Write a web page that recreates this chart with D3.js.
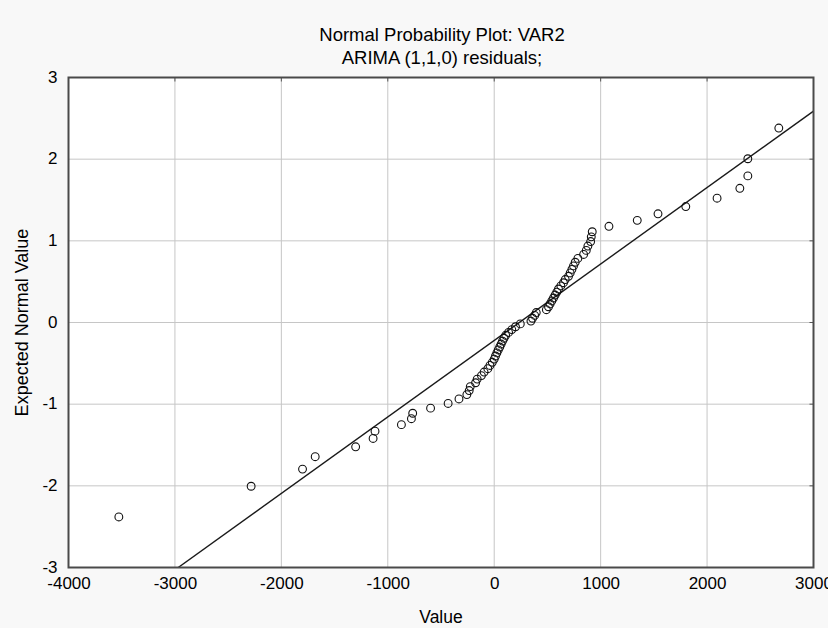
<!DOCTYPE html>
<html><head><meta charset="utf-8">
<script src="https://cdn.jsdelivr.net/npm/d3@7"></script>
<style>body{margin:0;background:#fff}svg{display:block}text{font-family:"Liberation Sans",Arial,sans-serif}</style>
</head><body>
<script>
const titleText = "Normal Probability Plot: VAR2";
const subtitleText = "ARIMA (1,1,0) residuals;";
const xLabel = "Value";
const yLabel = "Expected Normal Value";
const xTicks = [-4000, -3000, -2000, -1000, 0, 1000, 2000, 3000];
const yTicks = [-3, -2, -1, 0, 1, 2, 3];
// residual values (sorted)
const values = [-3527, -2284, -1801, -1682, -1302, -1138, -1120, -872, -778, -766,
  -598, -433, -331, -257, -235, -225, -175, -160, -120, -95,
  -60, -40, -18, 0, 12, 25, 38, 52, 65, 78,
  92, 108, 135, 165, 200, 245, 345, 360, 380, 395,
  490, 510, 525, 541, 557, 572, 588, 604, 626, 651,
  667, 698, 714, 730, 745, 761, 786, 840, 865, 880,
  906, 912, 921, 1078, 1344, 1539, 1800, 2094, 2308, 2383,
  2383, 2674];
// expected normal values
const expected = [-2.381, -2.005, -1.795, -1.643, -1.522, -1.420, -1.331, -1.251, -1.178, -1.111,
  -1.049, -0.991, -0.936, -0.883, -0.833, -0.785, -0.738, -0.693, -0.650, -0.607,
  -0.566, -0.526, -0.487, -0.448, -0.410, -0.372, -0.336, -0.300, -0.264, -0.228,
  -0.193, -0.157, -0.122, -0.087, -0.052, -0.017, 0.017, 0.052, 0.087, 0.122,
  0.157, 0.193, 0.228, 0.264, 0.300, 0.336, 0.372, 0.410, 0.448, 0.487,
  0.526, 0.566, 0.607, 0.650, 0.693, 0.738, 0.785, 0.833, 0.883, 0.936,
  0.991, 1.049, 1.111, 1.178, 1.251, 1.331, 1.420, 1.522, 1.643, 1.795,
  2.005, 2.381];
// reference line: y = (x - lineMean) / lineSD
const lineMean = 235;
const lineSD = 1068;

const W = 828, H = 628;
const svg = d3.select("body").append("svg").attr("width", W).attr("height", H);
svg.append("rect").attr("width", W).attr("height", H).attr("fill", "#f8f8f8");

const L = 68.5, R = 813.5, T = 77.5, B = 567.5;
const x = d3.scaleLinear().domain([-4000, 3000]).range([L, R]);
const y = d3.scaleLinear().domain([-3, 3]).range([B, T]);

svg.append("rect").attr("x", L).attr("y", T).attr("width", R - L).attr("height", B - T).attr("fill", "#fff");

const grid = svg.append("g");
grid.selectAll("line.vx").data(xTicks.slice(1, -1)).join("line")
  .attr("x1", d => x(d)).attr("x2", d => x(d)).attr("y1", T).attr("y2", B)
  .attr("stroke", "#c6c6c6").attr("stroke-width", 1);
grid.selectAll("line.hy").data(yTicks.slice(1, -1)).join("line")
  .attr("y1", d => y(d)).attr("y2", d => y(d)).attr("x1", L).attr("x2", R)
  .attr("stroke", "#c6c6c6").attr("stroke-width", 1);

svg.append("clipPath").attr("id", "clip").append("rect")
  .attr("x", L).attr("y", T).attr("width", R - L).attr("height", B - T);

// reference line
const lx = [lineMean - 3 * lineSD, 3000];
svg.append("line").attr("clip-path", "url(#clip)")
  .attr("x1", x(lx[0])).attr("y1", y((lx[0] - lineMean) / lineSD))
  .attr("x2", x(lx[1])).attr("y2", y((lx[1] - lineMean) / lineSD))
  .attr("stroke", "#1a1a1a").attr("stroke-width", 1.4);

// points
svg.append("g").selectAll("circle").data(values).join("circle")
  .attr("cx", d => x(d)).attr("cy", (d, i) => y(expected[i])).attr("r", 3.9)
  .attr("fill", "none").attr("stroke", "#111").attr("stroke-width", 1.1);

// axes
const xAxis = d3.axisBottom(x).tickValues(xTicks).tickSize(0).tickPadding(9).tickFormat(d => String(d));
const yAxis = d3.axisLeft(y).tickValues(yTicks).tickSize(0).tickPadding(11).tickFormat(d => String(d));
const gx = svg.append("g").attr("transform", `translate(0,${B})`).call(xAxis);
const gy = svg.append("g").attr("transform", `translate(${L},0)`).call(yAxis);
[gx, gy].forEach(g => {
  g.select(".domain").remove();
  g.selectAll("text").attr("font-size", 17).attr("fill", "#000")
    .attr("font-family", "'Liberation Sans', Arial, sans-serif");
});
gx.selectAll("text").attr("dy", "0.75em");
gy.selectAll("text").attr("dy", "0.28em");

// small inner ticks on right and top
svg.append("g").selectAll("line").data(yTicks.slice(1, -1)).join("line")
  .attr("x1", R - 4).attr("x2", R).attr("y1", d => y(d)).attr("y2", d => y(d))
  .attr("stroke", "#555");
svg.append("g").selectAll("line").data(xTicks.slice(1, -1)).join("line")
  .attr("y1", T).attr("y2", T + 4).attr("x1", d => x(d)).attr("x2", d => x(d))
  .attr("stroke", "#555");

// frame
svg.append("rect").attr("x", L).attr("y", T).attr("width", R - L).attr("height", B - T)
  .attr("fill", "none").attr("stroke", "#4a4a4a").attr("stroke-width", 2);

// titles
const cx = (L + R) / 2;
svg.append("text").attr("x", cx + 1).attr("y", 41).attr("text-anchor", "middle")
  .attr("font-size", 18.5).attr("fill", "#000").text(titleText);
svg.append("text").attr("x", cx + 1).attr("y", 64).attr("text-anchor", "middle")
  .attr("font-size", 18.5).attr("fill", "#000").text(subtitleText);
svg.append("text").attr("x", cx).attr("y", 623).attr("text-anchor", "middle")
  .attr("font-size", 17.5).attr("fill", "#000").text(xLabel);
svg.append("text").attr("transform", `translate(28,${(T + B) / 2}) rotate(-90)`)
  .attr("text-anchor", "middle").attr("font-size", 18).attr("fill", "#000").text(yLabel);
</script>
</body></html>
